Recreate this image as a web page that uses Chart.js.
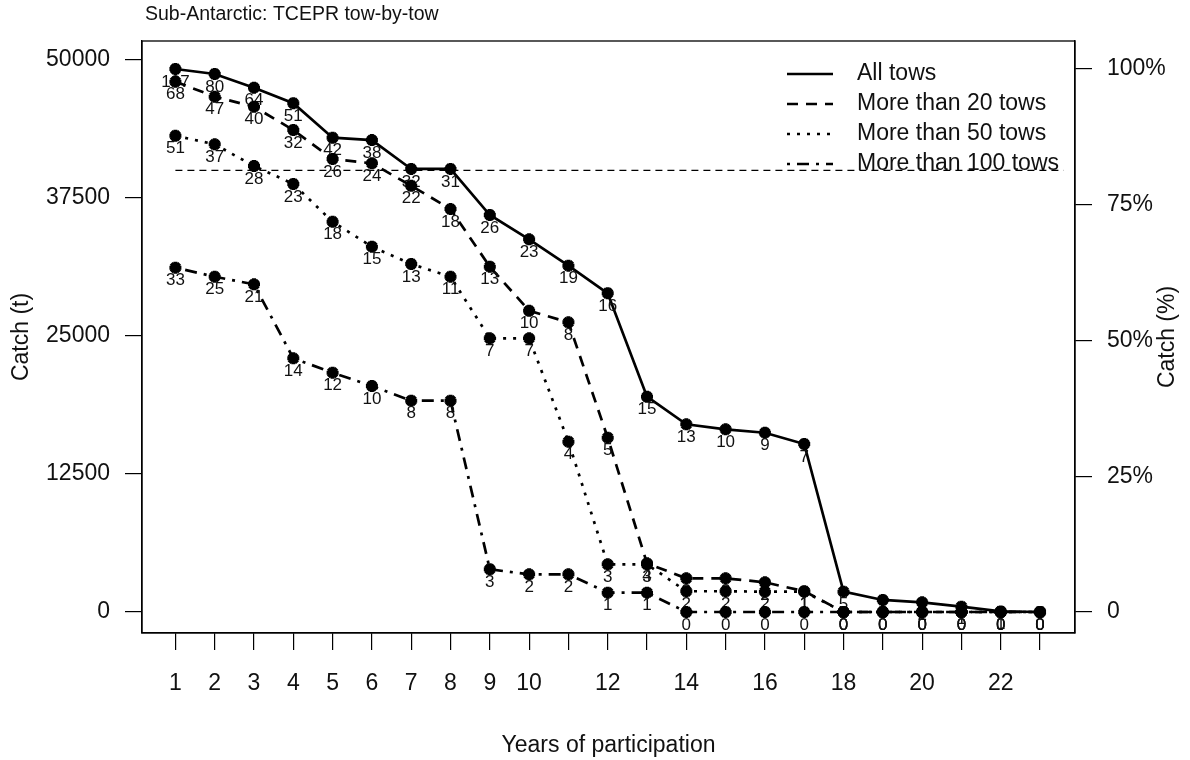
<!DOCTYPE html>
<html>
<head>
<meta charset="utf-8">
<script src="https://cdn.jsdelivr.net/npm/chart.js@4.4.0/dist/chart.umd.min.js"></script>
<style>
  html, body { margin: 0; padding: 0; background: #fff; }
  #wrap { width: 1190px; height: 760px; }
</style>
</head>
<body>
<div id="wrap"><canvas id="chart" width="1190" height="760"></canvas></div>
<script>
// Years of participation
const years = [1, 2, 3, 4, 5, 6, 7, 8, 9, 10, 11, 12, 13, 14, 15, 16, 17, 18, 19, 20, 21, 22, 23];
const xTickLabels = [1, 2, 3, 4, 5, 6, 7, 8, 9, 10, 12, 14, 16, 18, 20, 22];

// catch (t) for each group of vessels
const allTows = [49185, 48730, 47490, 46080, 42960, 42750, 40130, 40130, 35960, 33760, 31370, 28870,
                 19500, 17000, 16550, 16240, 15220, 1840, 1090, 880, 480, 50, 0];
const over20 = [48040, 46680, 45770, 43660, 41030, 40640, 38610, 36500, 31280, 27290, 26240, 15790,
                4410, 3050, 3050, 2690, 1880, 0, 0, 0, 0, 0, 0];
const over50 = [43140, 42360, 40400, 38770, 35350, 33090, 31520, 30370, 24790, 24790, 15430, 4320,
                4320, 1880, 1880, 1840, 1840, 0, 0, 0, 0, 0, 0];
const over100 = [31190, 30370, 29680, 22980, 21680, 20470, 19140, 19140, 3870, 3410, 3410, 1750,
                 1750, 0, 0, 0, 0, 0, 0, 0, 0, 0, 0];

// number of vessels, printed under each point
const allTowsN = [107, 80, 64, 51, 42, 38, 32, 31, 26, 23, 19, 16, 15, 13, 10, 9, 7, 5, 3, 2, 1, 1, 0];
const over20N = [68, 47, 40, 32, 26, 24, 22, 18, 13, 10, 8, 5, 4, 3, 3, 2, 1, 0, 0, 0, 0, 0, 0];
const over50N = [51, 37, 28, 23, 18, 15, 13, 11, 7, 7, 4, 3, 3, 2, 2, 2, 1, 0, 0, 0, 0, 0, 0];
const over100N = [33, 25, 21, 14, 12, 10, 8, 8, 3, 2, 2, 1, 1, 0, 0, 0, 0, 0, 0, 0, 0, 0, 0];

// horizontal reference line
const refLineX = [1, 23.6];
const refLineY = 40000;

const yTicks = [0, 12500, 25000, 37500, 50000];
const pctTicks = [0, 25, 50, 75, 100];

const FONT = '"Liberation Sans", Arial, sans-serif';
const yMin = -1902, yMax = 51721;
const pctBase = allTows[0]; // 100% = catch of all tows in year 1

function toPoints(arr) {
    return years.map((x, i) => ({ x: x, y: arr[i] }));
}

function series(label, arr, counts, dash, order) {
    return {
        label: label,
        data: toPoints(arr),
        counts: counts,
        borderColor: '#000',
        borderWidth: 2.7,
        borderDash: dash,
        borderCapStyle: 'butt',
        pointStyle: 'star',
        pointRadius: 6,
        pointBorderWidth: 4,
        pointBackgroundColor: '#000',
        pointBorderColor: '#000',
        tension: 0,
        order: order
    };
}

// 画图框、标题、每个点下面的数字和图例
const overlayPlugin = {
    id: 'overlay',
    afterDatasetDraw(chart, args) {
        const ds = chart.data.datasets[args.index];
        if (!ds.counts) return;
        const ctx = chart.ctx;
        ctx.save();
        ctx.font = '17px ' + FONT;
        ctx.fillStyle = '#111';
        ctx.textAlign = 'center';
        ctx.textBaseline = 'middle';
        args.meta.data.forEach((pt, j) => {
            ctx.fillText(String(ds.counts[j]), pt.x, pt.y + 13);
        });
        ctx.restore();
    },
    afterDraw(chart) {
        const ctx = chart.ctx;
        const a = chart.chartArea;
        ctx.save();
        ctx.strokeStyle = '#000';
        ctx.lineWidth = 1.3;
        ctx.strokeRect(a.left, a.top, a.right - a.left, a.bottom - a.top);

        ctx.fillStyle = '#111';
        ctx.font = '19.5px ' + FONT;
        ctx.textAlign = 'left';
        ctx.textBaseline = 'middle';
        ctx.fillText('Sub-Antarctic: TCEPR tow-by-tow', 145, 15);

        // legend
        ctx.font = '23px ' + FONT;
        const rows = chart.data.datasets.filter(d => d.counts);
        rows.forEach((d, i) => {
            const y = 74 + i * 30;
            ctx.beginPath();
            ctx.setLineDash(d.borderDash);
            ctx.lineWidth = d.borderWidth;
            ctx.lineCap = 'butt';
            ctx.moveTo(787, y);
            ctx.lineTo(833, y);
            ctx.stroke();
            ctx.setLineDash([]);
            ctx.fillText(d.label, 857, y);
        });

        // right axis title, reads bottom to top like the left one
        ctx.save();
        ctx.translate(1168, (a.top + a.bottom) / 2);
        ctx.rotate(-Math.PI / 2);
        ctx.textAlign = 'center';
        ctx.fillText('Catch (%)', 0, 0);
        ctx.restore();
        ctx.restore();
    }
};

new Chart(document.getElementById('chart'), {
    type: 'line',
    data: {
        datasets: [
            series('All tows', allTows, allTowsN, [], 4),
            series('More than 20 tows', over20, over20N, [11, 8], 3),
            series('More than 50 tows', over50, over50N, [3, 7], 2),
            series('More than 100 tows', over100, over100N, [3, 7, 12, 7], 1),
            {
                label: 'ref',
                data: refLineX.map(x => ({ x: x, y: refLineY })),
                borderColor: '#000',
                borderWidth: 1.1,
                borderDash: [7, 5],
                pointRadius: 0,
                order: 5
            }
        ]
    },
    options: {
        responsive: false,
        animation: false,
        events: [],
        layout: { padding: { top: 41, left: 0, right: 0, bottom: 0 } },
        plugins: {
            legend: { display: false },
            tooltip: { enabled: false },
            title: { display: false }
        },
        scales: {
            x: {
                type: 'linear',
                min: 0.15,
                max: 23.89,
                afterFit: s => { s.height = 127; },
                border: { display: true, color: '#000', width: 1.3 },
                grid: { drawOnChartArea: false, drawTicks: true, tickLength: 17, color: '#000', lineWidth: 1.2 },
                ticks: {
                    stepSize: 1,
                    includeBounds: false,
                    autoSkip: false,
                    maxRotation: 0,
                    padding: 20,
                    color: '#111',
                    font: { family: FONT, size: 23 },
                    callback: v => xTickLabels.includes(v) ? String(v) : ''
                },
                title: {
                    display: true,
                    text: 'Years of participation',
                    color: '#111',
                    font: { family: FONT, size: 23 },
                    padding: { top: 0, bottom: 1 }
                }
            },
            y: {
                type: 'linear',
                position: 'left',
                min: yMin,
                max: yMax,
                afterFit: s => { s.width = 142; },
                border: { display: true, color: '#000', width: 1.3 },
                grid: { drawOnChartArea: false, drawTicks: true, tickLength: 17, color: '#000', lineWidth: 1.2 },
                afterBuildTicks: s => { s.ticks = yTicks.map(v => ({ value: v })); },
                ticks: {
                    padding: 15,
                    color: '#111',
                    font: { family: FONT, size: 23 },
                    callback: v => String(v)
                },
                title: {
                    display: true,
                    text: 'Catch (t)',
                    color: '#111',
                    font: { family: FONT, size: 23 },
                    padding: { top: 8, bottom: 0 }
                }
            },
            y2: {
                type: 'linear',
                position: 'right',
                min: yMin / pctBase * 100,
                max: yMax / pctBase * 100,
                afterFit: s => { s.width = 115; },
                border: { display: true, color: '#000', width: 1.3 },
                grid: { drawOnChartArea: false, drawTicks: true, tickLength: 17, color: '#000', lineWidth: 1.2 },
                afterBuildTicks: s => { s.ticks = pctTicks.map(v => ({ value: v })); },
                ticks: {
                    padding: 15,
                    color: '#111',
                    font: { family: FONT, size: 23 },
                    callback: v => v === 0 ? '0' : v + '%'
                }
            }
        }
    },
    plugins: [overlayPlugin]
});
</script>
</body>
</html>
